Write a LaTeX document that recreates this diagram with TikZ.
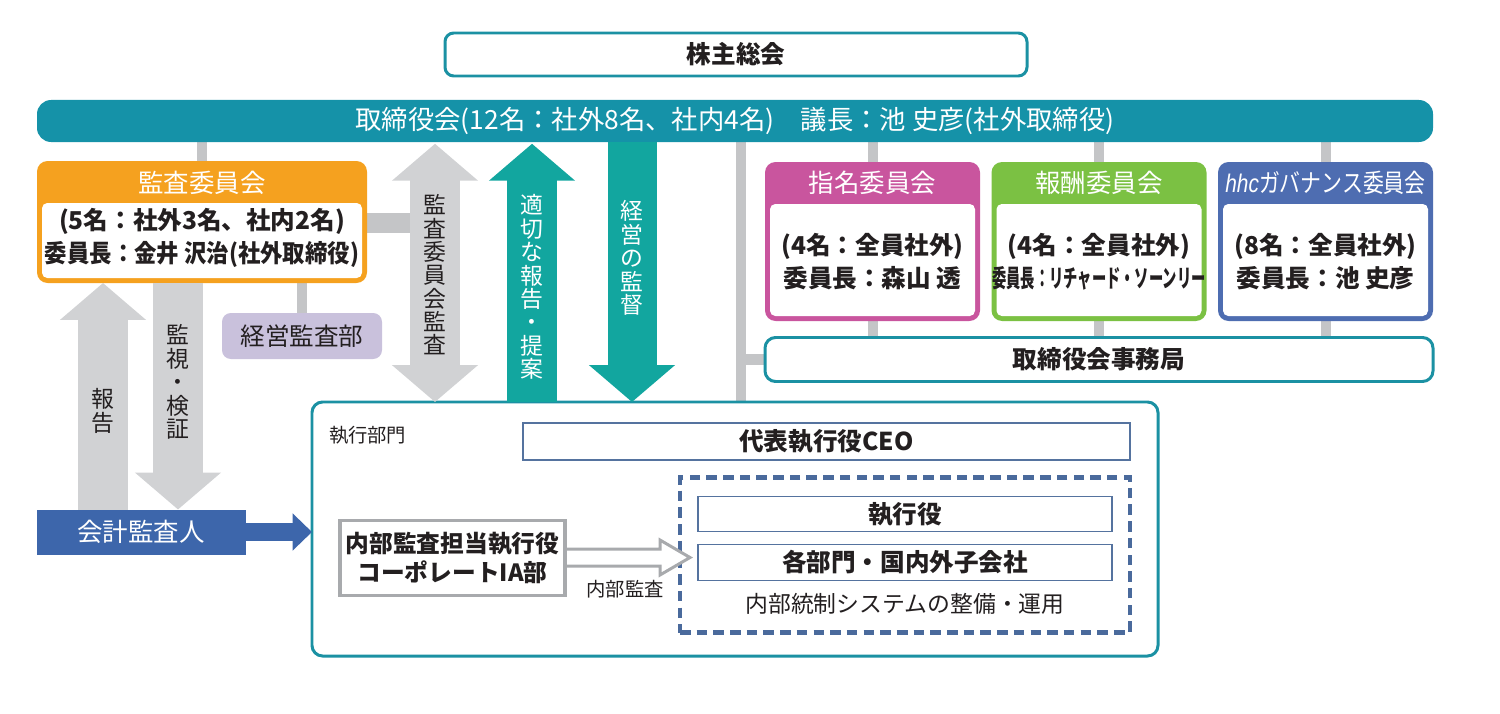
\documentclass[tikz,border=0pt]{standalone}
\usepackage{fontspec}
\usepackage{graphicx}
\setmainfont{Noto Sans CJK JP}
\newfontfamily\latinit{Liberation Sans}
\usetikzlibrary{arrows.meta}
\newdimen\px \px=0.02cm
\definecolor{tealbar}{HTML}{1592A8}
\definecolor{tealline}{HTML}{1B91A3}
\definecolor{tealarrow}{HTML}{12A69F}
\definecolor{garrowc}{HTML}{D1D2D4}
\definecolor{gline}{HTML}{C4C5C7}
\definecolor{gline2}{HTML}{BDBEC0}
\definecolor{orng}{HTML}{F5A11F}
\definecolor{magn}{HTML}{C9559E}
\definecolor{grn}{HTML}{7BC143}
\definecolor{blu}{HTML}{4E6DB1}
\definecolor{kblue}{HTML}{3D66AB}
\definecolor{lav}{HTML}{C9C1DC}
\definecolor{dashc}{HTML}{4A6A9C}
\definecolor{boxline}{HTML}{55739F}
\definecolor{nailine}{HTML}{A8AAAD}
\definecolor{txt}{HTML}{231F20}
\newcommand\Fm{\fontsize{14pt}{18.8pt}\selectfont}
\newcommand\Fh{\fontsize{14.5pt}{17pt}\selectfont}
\newcommand\Fv{\fontsize{13pt}{13.3pt}\selectfont\lineskiplimit=-5pt }
\newcommand\Fs{\fontsize{11pt}{13pt}\selectfont}
\pgfdeclarelayer{bg}
\pgfsetlayers{bg,main}
\begin{document}
\begin{tikzpicture}[x=0.02cm,y=-0.02cm,
  every node/.style={inner sep=0pt, outer sep=0pt, text=txt},
  conn/.style={draw=gline, line width=5.7pt},
  conn2/.style={draw=gline2, line width=4.5pt},
  garr/.style={draw=garrowc, line width=27.9pt},
  tarr/.style={draw=tealarrow, line width=27.9pt},
  vtext/.style={font=\Fv, align=center},
  frame/.style={draw=tealline, line width=1.7pt, fill=white, rounded corners=6pt},
  thinbox/.style={draw=boxline, line width=1.1pt, fill=white},
  committee/.style={fill=#1, rounded corners=6pt, minimum width=215\px, minimum height=159\px}
]
\useasboundingbox (0,0) rectangle (1500,713);

% named x positions
\coordinate (xA) at (435,0);
\coordinate (xB) at (532,0);
\coordinate (xC) at (632,0);
\coordinate (xD) at (103,0);
\coordinate (xE) at (178,0);
\coordinate (xF) at (202,0);
\coordinate (xG) at (741,0);
\coordinate (xH) at (460,0);
\coordinate (p1) at (435,223);

% top
\node[frame, rounded corners=5pt, minimum width=582\px, minimum height=43\px, font=\Fm\bfseries] (kabu) at (736,54.5) {株主総会};
\node[fill=tealbar, rounded corners=8pt, minimum width=1396\px, minimum height=42\px, text=white, font=\fontsize{15pt}{17pt}\selectfont] (bar) at (735,121) {取締役会(12名：社外8名、社内4名)\quad 議長：池 史彦(社外取締役)};

% audit committee
\node[fill=orng, rounded corners=6pt, minimum width=330\px, minimum height=122\px] (audit) at (202,222) {};
\fill[white, rounded corners=3pt] (42,203) rectangle (362,278);
\node[text=white, font=\Fh] (auditH) at (202,183) {監査委員会};
\node[align=center, font=\Fm\bfseries] (auditB) at (202,238) {(5名：社外3名、社内2名)\\\scalebox{0.91}[1]{委員長：金井 沢治(社外取締役)}};

\node[fill=lav, rounded corners=5pt, minimum width=160\px, minimum height=46\px, font=\Fm] (kansa) at (302,336) {経営監査部};

% committees
\node[committee=magn] (nom) at (872.5,241.5) {};
\fill[white, rounded corners=3pt] (770,204) rectangle (975,316);
\node[text=white, font=\Fh] (nomH) at (872.5,183) {指名委員会};
\node[align=center, font=\Fm\bfseries] (nomB) at (872.5,262) {(4名：全員社外)\\委員長：森山 透};

\node[committee=grn] (rem) at (1099,241.5) {};
\fill[white, rounded corners=3pt] (996.5,204) rectangle (1201.5,316);
\node[text=white, font=\Fh] (remH) at (1099,183) {報酬委員会};
\node[align=center, font=\Fm\bfseries] (remB) at (1099,262) {(4名：全員社外)\\\scalebox{0.58}[1]{委員長：リチャード・ソーンリー}};

\node[committee=blu] (gov) at (1325.5,241.5) {};
\fill[white, rounded corners=3pt] (1223,204) rectangle (1428,316);
\node[text=white, font=\Fh] (govH) at (1325.5,183) {\scalebox{0.82}[1]{{\latinit\itshape hhc}ガバナンス委員会}};
\node[align=center, font=\Fm\bfseries] (govB) at (1325.5,262) {(8名：全員社外)\\委員長：池 史彦};

\node[frame, minimum width=668\px, minimum height=44\px, font=\Fm\bfseries] (jim) at (1099,359.5) {取締役会事務局};

% execution
\node[frame, minimum width=846\px, minimum height=254\px] (exec) at (735,529) {};
\node[anchor=west, font=\Fs] (execL) at (329,435) {執行部門};
\node[thinbox, minimum width=607\px, minimum height=37\px, font=\Fm\bfseries] (ceo) at (826.5,441.5) {代表執行役CEO};
\node[draw=dashc, line width=2.3pt, dash pattern=on 6pt off 3.5pt, minimum width=450\px, minimum height=155\px] (ctrl) at (905,555) {};
\node[thinbox, minimum width=414\px, minimum height=35\px, font=\Fm\bfseries] (yaku) at (905,514) {執行役};
\node[thinbox, minimum width=414\px, minimum height=36\px, font=\Fm\bfseries] (busho) at (905,562.5) {各部門・国内外子会社};
\node[font=\fontsize{13pt}{15pt}\selectfont] (ctrlT) at (905,604) {内部統制システムの整備・運用};

\draw[draw=nailine, line width=1.7pt, fill=white] (563,549) -- (660,549) -- (660,540) -- (690,557.5) -- (660,575) -- (660,566) -- (563,566);
\node[draw=nailine, line width=2.2pt, fill=white, minimum width=225\px, minimum height=75\px, align=center, font=\fontsize{13.5pt}{17pt}\selectfont\bfseries] (naibu) at (452.5,558) {内部監査担当執行役\\コーポレートIA部};
\node[font=\Fs] (naibuL) at (625,589) {内部監査};

% auditor
\node[fill=kblue, minimum width=209\px, minimum height=45\px, text=white, font=\Fh] (kaikei) at (141,532) {会計監査人};

% connectors on background
\begin{pgfonlayer}{bg}
\draw[conn] (bar.south -| xF) -- (audit.north -| xF);
\draw[conn, line width=11pt] (audit.east |- p1) -- (p1);
\draw[conn] (audit.south -| kansa.north) -- (kansa.north);
\draw[conn] (bar.south -| xG) -- (exec.north -| xG);
\draw[conn] (xG |- jim.west) -- (jim.west);
\foreach \c in {nom,rem,gov}{
  \draw[conn] (bar.south -| \c.north) -- (\c.north);
  \draw[conn] (\c.south) -- (jim.north -| \c.south);
}
\draw[conn2] (ceo.west) -- (xH |- ceo.west) -- (xH |- naibu.north);
\draw[conn2] (ceo.south -| yaku.north) -- (yaku.north);
\draw[conn2] (yaku.south) -- (busho.north);
\end{pgfonlayer}

% big arrows
\draw[garr, {Triangle[length=21pt,width=47.8pt]}-{Triangle[length=21pt,width=47.8pt]}] ([yshift=-1pt]bar.south -| xA) -- (exec.north -| xA);
\draw[tarr, -{Triangle[length=21pt,width=47.8pt]}] (exec.north -| xB) -- ([yshift=-1pt]bar.south -| xB);
\draw[tarr, -{Triangle[length=21pt,width=47.8pt]}] (bar.south -| xC) -- (exec.north -| xC);
\draw[garr, -{Triangle[length=21pt,width=47.8pt]}] (kaikei.north -| xD) -- (audit.south -| xD);
\draw[garr, -{Triangle[length=21pt,width=47.8pt]}] (audit.south -| xE) -- (kaikei.north -| xE);
\draw[draw=kblue, line width=10.5pt, -{Triangle[length=11pt,width=20.5pt]}] (kaikei.east) -- (exec.west |- kaikei.east);

% vertical labels
\node[vtext] (tA) at (435,275) {監\\査\\委\\員\\会\\監\\査};
\node[vtext, text=white] (tB) at (532,287) {適\\切\\な\\報\\告\\・\\提\\案};
\node[vtext, text=white] (tC) at (632,258) {経\\営\\の\\監\\督};
\node[vtext] (tD) at (103,411) {報\\告};
\node[vtext] (tE) at (178,382) {監\\視\\・\\検\\証};
\end{tikzpicture}
\end{document}
